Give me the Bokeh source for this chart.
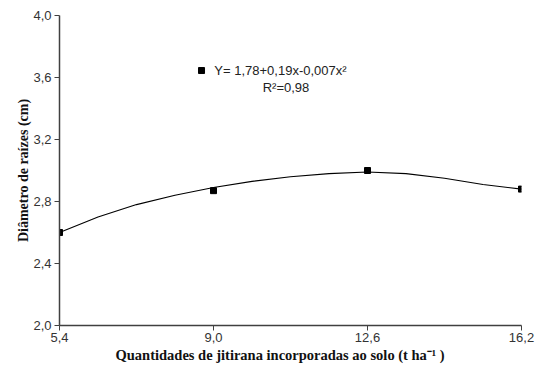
from bokeh.plotting import figure
from bokeh.models import FixedTicker, Label, Range1d, Title
from bokeh.embed import file_html
from bokeh.resources import INLINE

# observed data
doses = [5.4, 9.0, 12.6, 16.2]
diametro = [2.60, 2.87, 3.00, 2.88]

# fitted curve
curve_x = [5.4, 6.3, 7.2, 8.1, 9.0, 9.9, 10.8, 11.7, 12.6, 13.5, 14.4, 15.3, 16.2]
curve_y = [2.60, 2.70, 2.78, 2.84, 2.89, 2.93, 2.96, 2.98, 2.99, 2.98, 2.95, 2.91, 2.88]

x_ticks = [5.4, 9.0, 12.6, 16.2]
y_ticks = [2.0, 2.4, 2.8, 3.2, 3.6, 4.0]

equation = "Y= 1,78+0,19x-0,007x²"
r2 = "R²=0,98"
x_title = "Quantidades de jitirana incorporadas ao solo (t ha⁻¹ )"
y_title = "Diâmetro de raízes (cm)"

p = figure(width=536, height=370, output_backend="svg", toolbar_location=None,
           x_range=Range1d(5.4, 16.2), y_range=Range1d(2.0, 4.0),
           min_border_left=59, min_border_right=15, min_border_top=15, min_border_bottom=45)
p.outline_line_color = None
p.xgrid.visible = False
p.ygrid.visible = False
p.background_fill_color = "white"

for ax, ticks in ((p.xaxis, x_ticks), (p.yaxis, y_ticks)):
    ax.ticker = FixedTicker(ticks=ticks)
    ax.minor_tick_line_color = None
    ax.major_tick_out = 5
    ax.major_tick_in = 0
    ax.axis_line_color = "#404040"
    ax.major_tick_line_color = "#404040"
    ax.axis_line_width = 1.5
    ax.major_label_text_font = "Liberation Sans"
    ax.major_label_text_font_size = "13px"
    ax.major_label_text_color = "#333333"

p.xaxis.major_label_overrides = {t: f"{t:.1f}".replace(".", ",") for t in x_ticks}
p.yaxis.major_label_overrides = {t: f"{t:.1f}".replace(".", ",") for t in y_ticks}
p.xaxis.major_label_standoff = 2
p.yaxis.major_label_standoff = 3

p.line(curve_x, curve_y, line_color="black", line_width=1.1)
p.scatter(doses, diametro, marker="square", size=6, color="black")

title_style = dict(text_font="Liberation Serif", text_font_style="bold",
                   text_color="#111111", standoff=0)
p.add_layout(Title(text=x_title, align="left", offset=56, text_font_size="14.5px",
                   **title_style), "below")
p.add_layout(Title(text=y_title, align="center", offset=26, text_font_size="14px",
                   **title_style), "left")

p.scatter([8.72], [3.645], marker="square", size=6, color="black")
p.add_layout(Label(x=9.02, y=3.645, text=equation, text_font="Liberation Sans",
                   text_font_size="13px", text_color="#222222", text_baseline="middle"))
p.add_layout(Label(x=10.15, y=3.535, text=r2, text_font="Liberation Sans",
                   text_font_size="13px", text_color="#222222", text_baseline="middle"))

open("out.html", "w").write(file_html(p, INLINE))
